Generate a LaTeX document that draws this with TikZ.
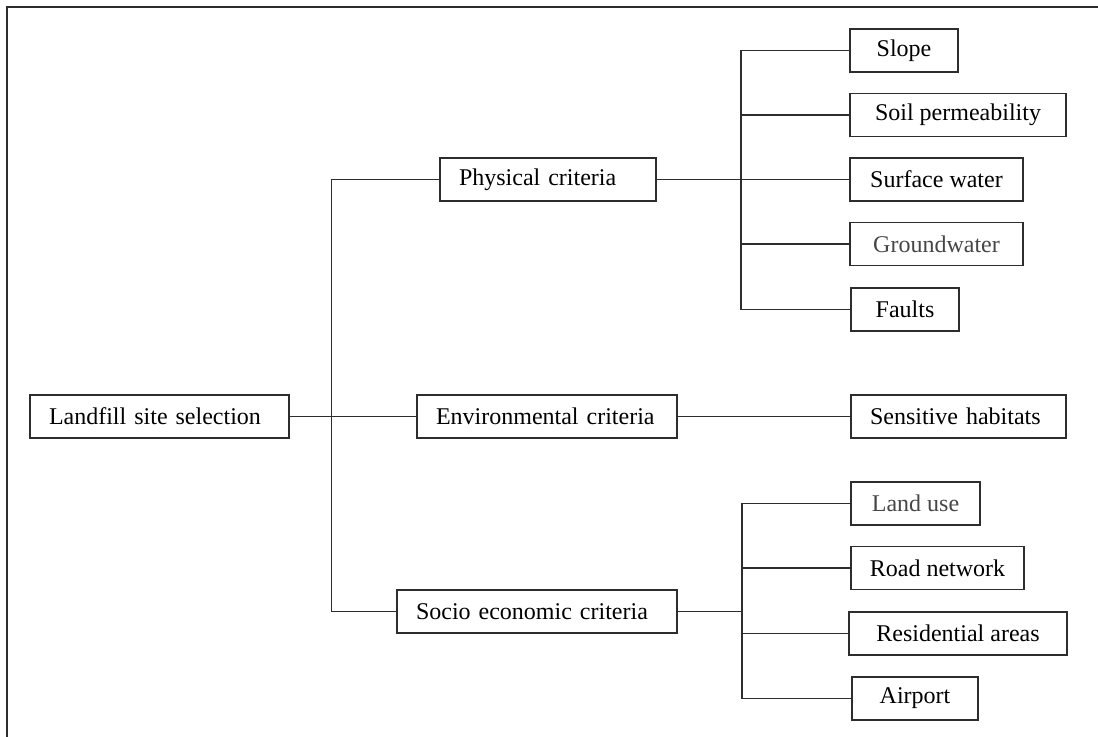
\documentclass[tikz,border=0pt]{standalone}
\usepackage{fontspec}
\usepackage{tikz}
\setmainfont{Liberation Serif}
\newfontfamily\heavyFont{Liberation Serif}
\newfontfamily\lightFont{Liberation Serif}
\definecolor{lineColor}{RGB}{45,45,45}
\definecolor{lightText}{RGB}{70,70,70}
\tikzstyle{diagram} = [x = .5pt, y = -.5pt]
\tikzstyle{frameLine} = [color=lineColor, line width=1pt]
\tikzstyle{branchLine} = [color=lineColor, line width=.8pt]
\tikzstyle{critBox} = [draw=lineColor, line width=.8pt, minimum height=21.5pt, inner ysep=0pt, fill=white, text=black, font=\fontsize{12}{14}\heavyFont]
\tikzstyle{lightBox} = [critBox, font=\fontsize{12}{14}\lightFont, text=lightText]
\newcommand{\padding}{19}
% box with text set from its left side
\newcommand{\mainCriterion}[5]{
  \pgfmathsetmacro{\textWidth}{(#4 - 2 * \padding) / 2}
  \node [critBox, align=left, inner xsep=\padding * .5pt, text width=\textWidth pt] (#1) at (#2, #3) {#5};
}
% box with centred text
\newcommand{\criterion}[6][critBox]{
  \pgfmathsetmacro{\boxWidth}{#5 / 2}
  \node [#1, minimum width=\boxWidth pt] (#2) at (#3, #4) {#6};
}
\begin{document}
\begin{tikzpicture}[diagram]
  \useasboundingbox (0, 0) rectangle (1098, 737);
  \draw [frameLine] (7, 737) -- (7, 7) -- (1098, 7);

  \mainCriterion{landfill}{159.5}{416.5}{259}{Landfill site selection}
  \mainCriterion{physical}{548}{179.5}{216}{Physical criteria}
  \mainCriterion{environmental}{547}{416.5}{260}{Environmental criteria}
  \mainCriterion{socio}{537}{611.5}{280}{Socio economic criteria}
  \mainCriterion{habitats}{958.5}{416.5}{215}{Sensitive habitats}

  \criterion{slope}{904}{50.5}{108}{Slope}
  \criterion{soil}{958}{115}{216}{Soil permeability}
  \criterion{surface}{936.5}{179.5}{173}{Surface water}
  \criterion[lightBox]{groundwater}{936.5}{244}{173}{Groundwater}
  \criterion{faults}{905}{309.5}{108}{Faults}

  \criterion[lightBox]{landUse}{915.5}{503.5}{129}{Land use}
  \criterion{road}{937.5}{568}{173}{Road network}
  \criterion{residential}{958}{633.5}{218}{Residential areas}
  \criterion{airport}{915}{698.5}{126}{Airport}

  \coordinate (trunk) at (331.5, 416.5);
  \coordinate (physicalJoint) at (741, 179.5);
  \coordinate (socioJoint) at (742, 611.5);

  % main trunk
  \draw [branchLine] (landfill) -- (environmental);
  \draw [branchLine] (physical.west) -| (trunk) |- (socio.west);
  \draw [branchLine] (environmental) -- (habitats);

  % physical branch
  \draw [branchLine] (physical) -- (surface);
  \draw [branchLine] (slope.west) -| (physicalJoint) |- (faults.west);
  \draw [branchLine] (soil.west) -- (soil.west -| physicalJoint);
  \draw [branchLine] (groundwater.west) -- (groundwater.west -| physicalJoint);

  % socio economic branch
  \draw [branchLine] (socio.east) -- (socioJoint);
  \draw [branchLine] (landUse.west) -| (socioJoint) |- (airport.west);
  \draw [branchLine] (road.west) -- (road.west -| socioJoint);
  \draw [branchLine] (residential.west) -- (residential.west -| socioJoint);
\end{tikzpicture}
\end{document}
